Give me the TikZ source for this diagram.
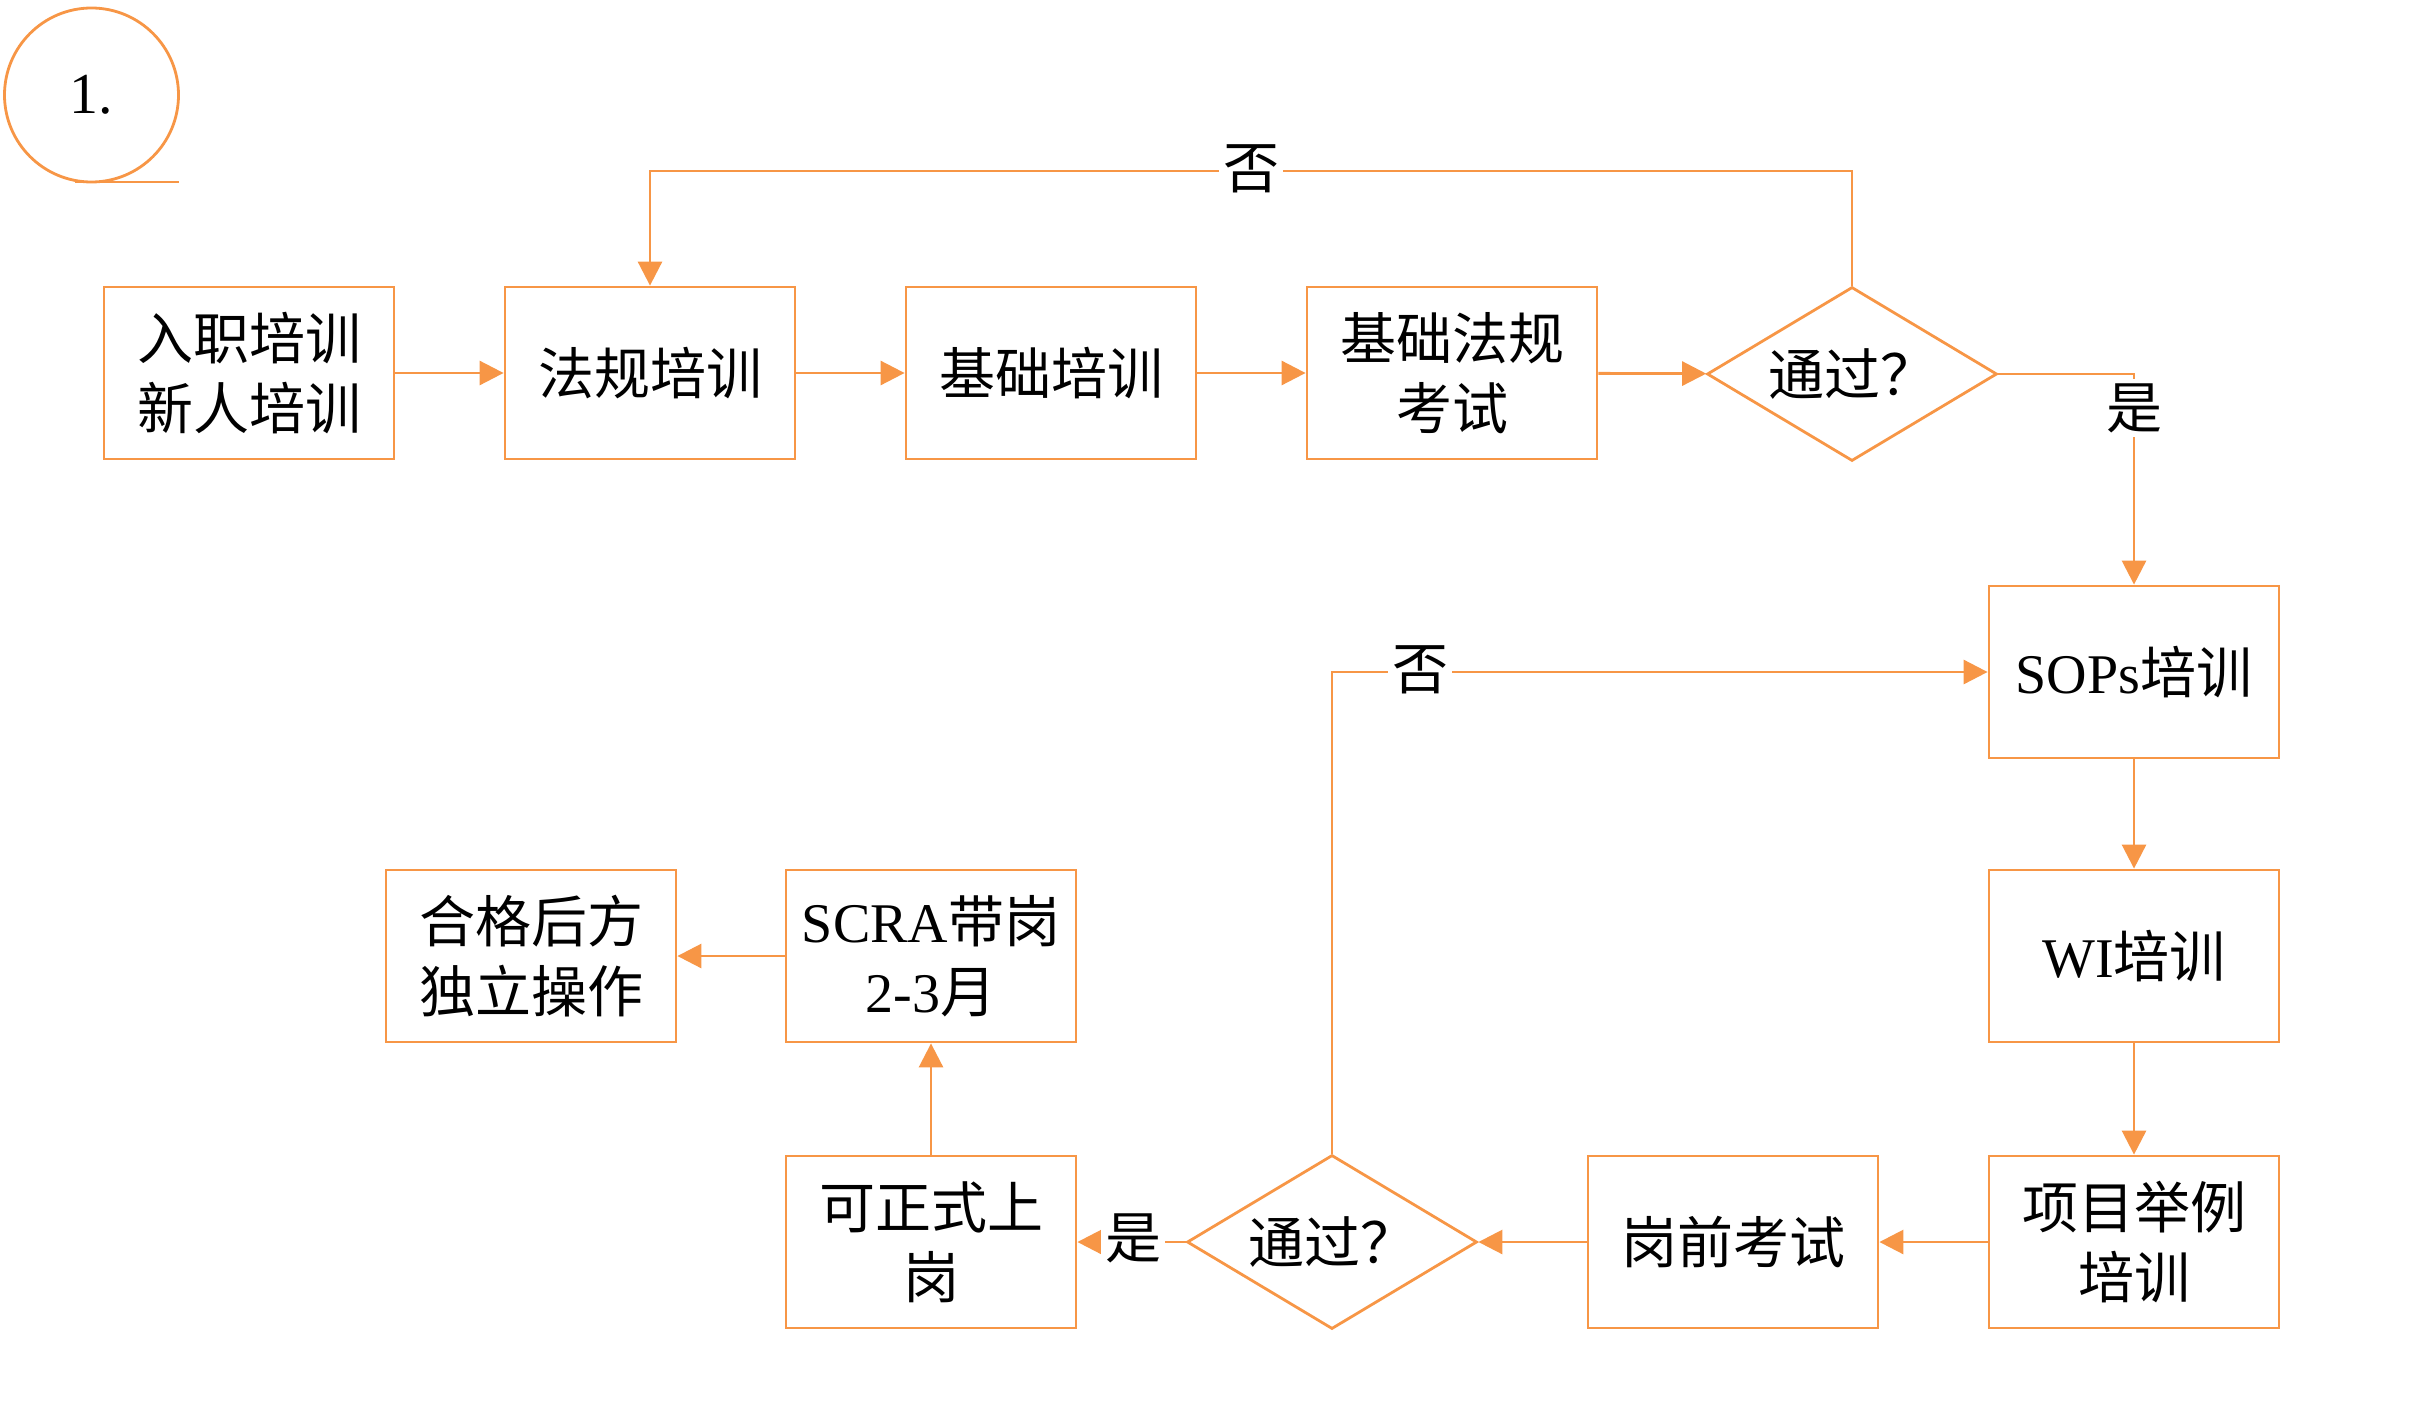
\documentclass[tikz,border=0pt]{standalone}
\usepackage{fontspec}
\setmainfont{Liberation Serif}
\newfontfamily\cjk{Noto Sans CJK SC}
\newcommand\zh[1]{{\cjk #1}}
\usetikzlibrary{arrows.meta,shapes.geometric}
\definecolor{org}{HTML}{F79646}
\begin{document}
\begin{tikzpicture}[x=0.5pt,y=-0.5pt,
  box/.style={draw=org,line width=1.4pt,minimum width=145pt,minimum height=86pt,align=center,inner sep=0pt,font=\fontsize{28}{35}\selectfont},
  dec/.style={draw=org,diamond,shape aspect=1.667,line width=1.4pt,minimum width=145pt,minimum height=87pt,inner sep=0pt,font=\fontsize{28}{35}\selectfont},
  arr/.style={draw=org,line width=1.4pt,-{Triangle[length=12pt,width=12pt]}},
  ln/.style={draw=org,line width=1.4pt},
  lab/.style={fill=white,inner sep=2pt,font=\cjk\fontsize{28}{35}\selectfont}]
\useasboundingbox (0,0) rectangle (2434,1418);
% title circle
\node[circle,draw=org,line width=1.4pt,minimum size=87pt,inner sep=0pt,font=\fontsize{29}{35}\selectfont] (c) at (91.5,95) {1.};
\coordinate (cl) at (75,182);
\coordinate (cr) at (179,182);
\draw[ln] (cl) -- (cr);
% row 1
\node[box] (b1) at (249,373) {\zh{入职培训}\\\zh{新人培训}};
\node[box] (b2) at (650,373) {\zh{法规培训}};
\node[box] (b3) at (1051,373) {\zh{基础培训}};
\node[box] (b4) at (1452,373) {\zh{基础法规}\\\zh{考试}};
\node[dec] (d1) at (1852,374) {\zh{通过？}};
% right column
\node[box] (sop) at (2134,672) {SOPs\zh{培训}};
\node[box] (wi) at (2134,956) {WI\zh{培训}};
\node[box] (xm) at (2134,1242) {\zh{项目举例}\\\zh{培训}};
% bottom row
\node[box] (gq) at (1733,1242) {\zh{岗前考试}};
\node[dec] (d2) at (1332,1242) {\zh{通过？}};
\node[box] (kz) at (931,1242) {\zh{可正式上}\\\zh{岗}};
\node[box] (sc) at (931,956) {SCRA\zh{带岗}\\2-3\zh{月}};
\node[box] (hg) at (531,956) {\zh{合格后方}\\\zh{独立操作}};
% connectors
\draw[arr] (b1) -- (b2);
\draw[arr] (b2) -- (b3);
\draw[arr] (b3) -- (b4);
\draw[arr] (b4) -- (d1);
\coordinate (t1) at (1852,171);
\draw[arr] (d1.north) -- (t1) -| (b2.north);
\node[lab] (n1) at (1251,169) {否};
\draw[arr] (d1.east) -| (sop.north);
\node[lab] (y1) at (2134,408) {是};
\draw[arr] (sop) -- (wi);
\draw[arr] (wi) -- (xm);
\draw[arr] (xm) -- (gq);
\draw[arr] (gq) -- (d2);
\draw[arr] (d2.north) |- (sop.west);
\node[lab] (n2) at (1420,670) {否};
\draw[arr] (d2.west) -- (kz.east);
\node[lab] (y2) at (1133,1238) {是};
\draw[arr] (kz) -- (sc);
\draw[arr] (sc) -- (hg);
\end{tikzpicture}
\end{document}
